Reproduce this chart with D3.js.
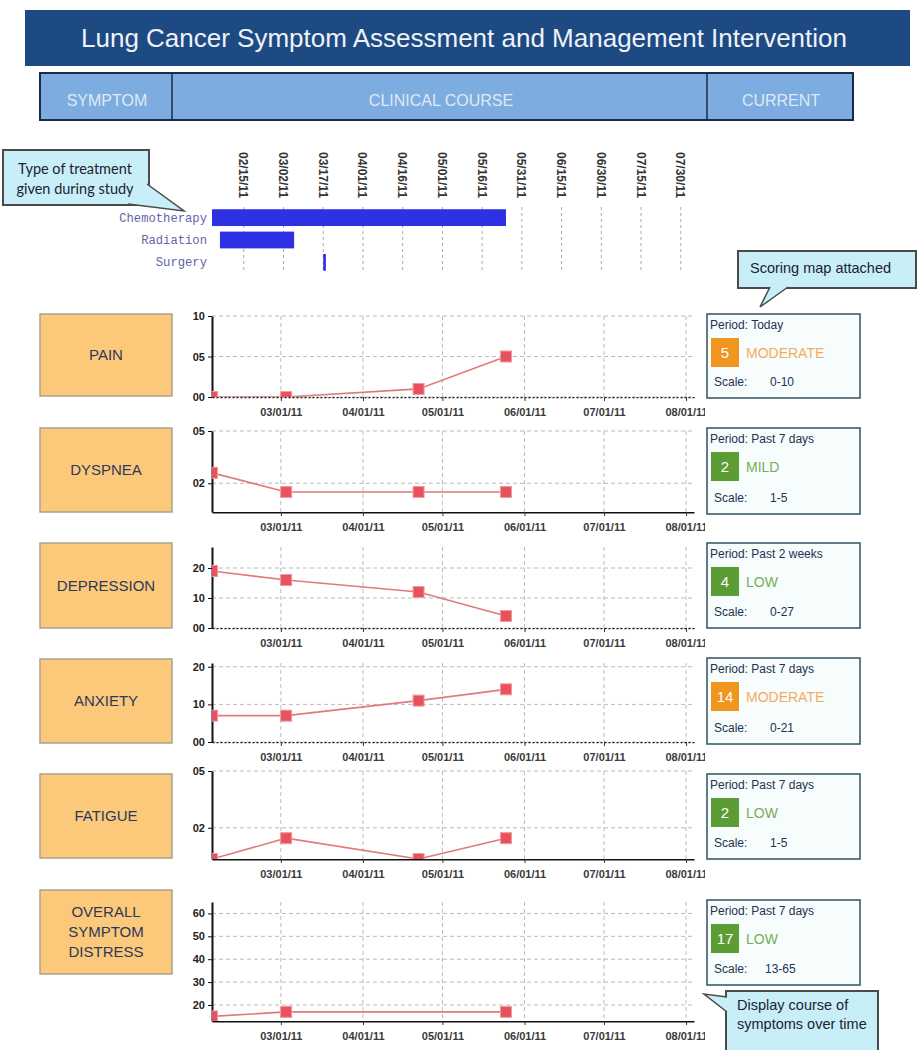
<!DOCTYPE html>
<html>
<head>
<meta charset="utf-8">
<script src="https://cdn.jsdelivr.net/npm/d3@7"></script>
<style>
  body { margin: 0; background: #fff; }
  svg { display: block; font-family: "Liberation Sans", Arial, sans-serif; }
</style>
</head>
<body>
<div id="chart"></div>
<script>
// ---- data ----
var treatments = ["Chemotherapy", "Radiation", "Surgery"];
var treatStart = ["02/03/11", "02/06/11", "03/17/11"];
var treatEnd   = ["05/25/11", "03/06/11", "03/18/11"];
var timelineTicks = ["02/15/11", "03/02/11", "03/17/11", "04/01/11", "04/16/11", "05/01/11",
                     "05/16/11", "05/31/11", "06/15/11", "06/30/11", "07/15/11", "07/30/11"];
var monthTicks = ["03/01/11", "04/01/11", "05/01/11", "06/01/11", "07/01/11", "08/01/11"];
var assessDates = ["02/03/11", "03/03/11", "04/22/11", "05/25/11"];

var symptoms = [["PAIN"], ["DYSPNEA"], ["DEPRESSION"], ["ANXIETY"], ["FATIGUE"], ["OVERALL", "SYMPTOM", "DISTRESS"]];
var painScores       = [0, 0, 1, 5];
var dyspneaScores    = [2.6, 1.5, 1.5, 1.5];
var depressionScores = [19, 16, 12, 4];
var anxietyScores    = [7, 7, 11, 14];
var fatigueScores    = [0.35, 1.45, 0.35, 1.45];
var overallScores    = [15, 17, null, 17];
var yDomains = [[0, 10], [0.35, 5], [0, 27], [0, 21], [0.35, 5], [13, 65]];
var yTicks   = [[0, 5, 10], [2, 5], [0, 10, 20], [0, 10, 20], [2, 5], [20, 30, 40, 50, 60]];

var periods      = ["Today", "Past 7 days", "Past 2 weeks", "Past 7 days", "Past 7 days", "Past 7 days"];
var currentScore = [5, 2, 4, 14, 2, 17];
var levels       = ["MODERATE", "MILD", "LOW", "MODERATE", "LOW", "LOW"];
var scaleRanges  = ["0-10", "1-5", "0-27", "0-21", "1-5", "13-65"];

var allScores = [painScores, dyspneaScores, depressionScores, anxietyScores, fatigueScores, overallScores];

// ---- layout ----
var parse = d3.timeParse("%m/%d/%y");
var width = 923, height = 1050;
var plotLeft = 212, plotRight = 694;

// box = orange label box, plot = chart area, panel = current box
var rows = [
  { box: [314, 396], plot: [316, 397], panel: [314, 398] },
  { box: [428, 512], plot: [431, 512], panel: [428, 514] },
  { box: [543, 628], plot: [547, 628], panel: [543, 628] },
  { box: [659, 743], plot: [663, 742], panel: [658, 744] },
  { box: [774, 858], plot: [771, 859], panel: [774, 859] },
  { box: [890, 974], plot: [902, 1021], panel: [900, 985] }
];

var svg = d3.select("#chart").append("svg")
    .attr("width", width)
    .attr("height", height);

var defs = svg.append("defs");

var x = d3.scaleTime()
    .domain([parse("02/03/11"), parse("08/04/11")])
    .range([plotLeft, plotRight]);

// ---- header ----
svg.append("rect")
    .attr("x", 25).attr("y", 10).attr("width", 885).attr("height", 56)
    .attr("fill", "#1d4a82");
svg.append("text")
    .attr("x", 464).attr("y", 47)
    .attr("text-anchor", "middle")
    .style("font-family", "'Liberation Sans Narrow', 'Arial Narrow', 'Liberation Sans', sans-serif")
    .style("font-size", "26px")
    .attr("fill", "#eef2f8")
    .text("Lung Cancer Symptom Assessment and Management Intervention");

var sub = svg.append("g");
sub.append("rect")
    .attr("x", 40).attr("y", 73).attr("width", 813).attr("height", 47)
    .attr("fill", "#7dade0").attr("stroke", "#1c2b45").attr("stroke-width", 2);
[172, 707].forEach(function (d) {
    sub.append("line").attr("x1", d).attr("x2", d).attr("y1", 73).attr("y2", 120)
        .attr("stroke", "#1c2b45").attr("stroke-width", 1.5);
});
[["SYMPTOM", 107], ["CLINICAL COURSE", 441], ["CURRENT", 781]].forEach(function (d) {
    sub.append("text")
        .attr("x", d[1]).attr("y", 106)
        .attr("text-anchor", "middle")
        .style("font-family", "'Liberation Sans Narrow', 'Arial Narrow', 'Liberation Sans', sans-serif")
        .style("font-size", "16px")
        .attr("fill", "#dfe9f6")
        .text(d[0]);
});

// ---- treatment timeline ----
var tl = svg.append("g");
var band = d3.scaleBand()
    .domain(treatments)
    .range([207, 273])
    .paddingInner(0.25)
    .paddingOuter(0.1);

tl.selectAll(".tgrid")
    .data(timelineTicks)
    .enter().append("line")
    .attr("x1", function (d) { return x(parse(d)); })
    .attr("x2", function (d) { return x(parse(d)); })
    .attr("y1", 207).attr("y2", 273)
    .attr("stroke", "#aaa").attr("stroke-dasharray", "3,3");

tl.selectAll(".tlabel")
    .data(timelineTicks)
    .enter().append("text")
    .attr("transform", function (d) { return "translate(" + (x(parse(d)) - 4.5) + ",152) rotate(90)"; })
    .style("font-size", "12px").style("font-weight", "bold")
    .attr("fill", "#333")
    .text(function (d) { return d; });

tl.selectAll(".tbar")
    .data(treatments)
    .enter().append("rect")
    .attr("x", function (d, i) { return x(parse(treatStart[i])); })
    .attr("y", function (d) { return band(d); })
    .attr("width", function (d, i) { return x(parse(treatEnd[i])) - x(parse(treatStart[i])); })
    .attr("height", band.bandwidth())
    .attr("fill", "#2f2fe4");

tl.selectAll(".tname")
    .data(treatments)
    .enter().append("text")
    .attr("x", 207)
    .attr("y", function (d) { return band(d) + band.bandwidth() / 2 + 4; })
    .attr("text-anchor", "end")
    .style("font-family", "'Liberation Mono', 'Courier New', monospace")
    .style("font-size", "12.2px")
    .attr("fill", "#6464a8")
    .text(function (d) { return d; });

// ---- symptom rows ----
defs.append("clipPath").attr("id", "labelClip")
    .append("rect").attr("x", 0).attr("y", 0).attr("width", 705).attr("height", height);

rows.forEach(function (r, i) {
    var g = svg.append("g");

    // orange symptom box
    g.append("rect")
        .attr("x", 40).attr("y", r.box[0]).attr("width", 132).attr("height", r.box[1] - r.box[0])
        .attr("fill", "#fcc87a").attr("stroke", "#aaa290").attr("stroke-width", 1.5);
    var lines = symptoms[i];
    var mid = (r.box[0] + r.box[1]) / 2;
    lines.forEach(function (t, k) {
        g.append("text")
            .attr("x", 106)
            .attr("y", mid + (k - (lines.length - 1) / 2) * 20 + 5)
            .attr("text-anchor", "middle")
            .style("font-size", "15px")
            .attr("fill", "#2b3a5a")
            .text(t);
    });

    // scales
    var y = d3.scaleLinear().domain(yDomains[i]).range([r.plot[1], r.plot[0]]);

    // grid
    g.selectAll(".hgrid")
        .data(yTicks[i])
        .enter().append("line")
        .attr("x1", plotLeft).attr("x2", plotRight)
        .attr("y1", function (d) { return y(d); })
        .attr("y2", function (d) { return y(d); })
        .attr("stroke", "#bbb").attr("stroke-dasharray", "4,3");
    g.selectAll(".vgrid")
        .data(monthTicks)
        .enter().append("line")
        .attr("x1", function (d) { return x(parse(d)); })
        .attr("x2", function (d) { return x(parse(d)); })
        .attr("y1", r.plot[0]).attr("y2", r.plot[1])
        .attr("stroke", "#bbb").attr("stroke-dasharray", "4,3");

    // x axis
    var xAxis = d3.axisBottom(x)
        .tickValues(monthTicks.map(parse))
        .tickFormat(d3.timeFormat("%m/%d/%y"))
        .tickSize(4).tickSizeOuter(0);
    var xa = g.append("g")
        .attr("transform", "translate(0," + r.plot[1] + ")")
        .attr("clip-path", "url(#labelClip)")
        .call(xAxis);
    var dotted = yTicks[i].indexOf(yDomains[i][0]) >= 0;
    xa.select(".domain")
        .attr("stroke", "#111").attr("stroke-width", dotted ? 1.5 : 2)
        .attr("stroke-dasharray", dotted ? "2,2" : null);
    xa.selectAll(".tick line").attr("stroke", "#333");
    xa.selectAll(".tick text")
        .attr("dy", "1.05em")
        .style("font-size", "11px").style("font-weight", "bold")
        .style("font-family", "'Liberation Sans', Arial, sans-serif")
        .attr("fill", "#3a3a3a");

    // y axis
    var yAxis = d3.axisLeft(y)
        .tickValues(yTicks[i])
        .tickFormat(d3.format("02d"))
        .tickSize(4).tickSizeOuter(0);
    var ya = g.append("g")
        .attr("transform", "translate(" + plotLeft + ",0)")
        .call(yAxis);
    ya.select(".domain").attr("stroke", "#111").attr("stroke-width", 2);
    ya.selectAll(".tick line").attr("stroke", "#111");
    ya.selectAll(".tick text")
        .style("font-size", "11px").style("font-weight", "bold")
        .style("font-family", "'Liberation Sans', Arial, sans-serif")
        .attr("fill", "#222");

    // series
    var clipId = "plotClip" + i;
    defs.append("clipPath").attr("id", clipId)
        .append("rect")
        .attr("x", plotLeft).attr("y", r.plot[0] - 8)
        .attr("width", plotRight - plotLeft).attr("height", r.plot[1] - r.plot[0] + 8);

    var pts = assessDates.map(function (d, k) { return { date: parse(d), v: allScores[i][k] }; })
        .filter(function (p) { return p.v !== null; });

    var series = g.append("g").attr("clip-path", "url(#" + clipId + ")");
    series.append("path")
        .datum(pts)
        .attr("fill", "none")
        .attr("stroke", "#e07a7e").attr("stroke-width", 1.6)
        .attr("d", d3.line().x(function (p) { return x(p.date); }).y(function (p) { return y(p.v); }));
    series.selectAll(".pt")
        .data(pts)
        .enter().append("rect")
        .attr("x", function (p) { return x(p.date) - 5.5; })
        .attr("y", function (p) { return y(p.v) - 5.5; })
        .attr("width", 11).attr("height", 11)
        .attr("fill", "#e8525e").attr("stroke", "#f39a9a").attr("stroke-width", 1);

    // current panel
    var p = svg.append("g").attr("transform", "translate(707," + r.panel[0] + ")");
    var ph = r.panel[1] - r.panel[0];
    var isOrange = levels[i] === "MODERATE";
    p.append("rect")
        .attr("width", 153).attr("height", ph)
        .attr("fill", "#f7fcfd").attr("stroke", "#3c5d6a").attr("stroke-width", 1.6);
    p.append("text")
        .attr("x", 3).attr("y", 15)
        .style("font-size", "12px")
        .attr("fill", "#23324f")
        .text("Period: " + periods[i]);
    p.append("rect")
        .attr("x", 4).attr("y", 24).attr("width", 28).attr("height", 29)
        .attr("fill", isOrange ? "#f0961e" : "#5b9c35");
    p.append("text")
        .attr("x", 18).attr("y", 44)
        .attr("text-anchor", "middle")
        .style("font-size", "15px")
        .attr("fill", "#fff")
        .text(currentScore[i]);
    p.append("text")
        .attr("x", 39).attr("y", 44)
        .style("font-size", "14px")
        .attr("fill", isOrange ? "#f2ad5c" : "#79ad52")
        .text(levels[i]);
    p.append("text")
        .attr("x", 7).attr("y", ph - 12)
        .style("font-size", "12px")
        .attr("fill", "#23324f")
        .text("Scale:");
    p.append("text")
        .attr("x", scaleRanges[i].length > 4 ? 58 : 63).attr("y", ph - 12)
        .style("font-size", "12px")
        .attr("fill", "#23324f")
        .text(scaleRanges[i]);
});

// ---- callouts ----
function callout(box, pointer, lines, tx, ty, lh, font, size, anchor) {
    var c = svg.append("g");
    c.append("rect")
        .attr("x", box[0]).attr("y", box[1]).attr("width", box[2]).attr("height", box[3])
        .attr("fill", "#c8eff7").attr("stroke", "#4a4a4a").attr("stroke-width", 2);
    c.append("path")
        .attr("d", d3.line()(pointer))
        .attr("fill", "#c8eff7").attr("stroke", "#4a4a4a").attr("stroke-width", 1.5);
    lines.forEach(function (t, k) {
        c.append("text")
            .attr("x", tx).attr("y", ty + k * lh)
            .attr("text-anchor", anchor)
            .style("font-family", font)
            .style("font-size", size)
            .attr("fill", "#1b2233")
            .text(t);
    });
}

callout([3, 150, 146, 55], [[147, 184], [184, 211], [128, 204]],
    ["Type of treatment", "given during study"], 75, 174, 20,
    "Lato, 'Open Sans', sans-serif", "14.5px", "middle");
callout([738, 251, 178, 37], [[770, 287], [760, 307], [788, 287]],
    ["Scoring map attached"], 750, 273, 0,
    "'Liberation Sans', Arial, sans-serif", "14.5px", "start");
callout([726, 991, 152, 70], [[727, 997], [704, 994], [727, 1012]],
    ["Display course of", "symptoms over time"], 737, 1010, 19,
    "'Liberation Sans', Arial, sans-serif", "14.5px", "start");
</script>
</body>
</html>
